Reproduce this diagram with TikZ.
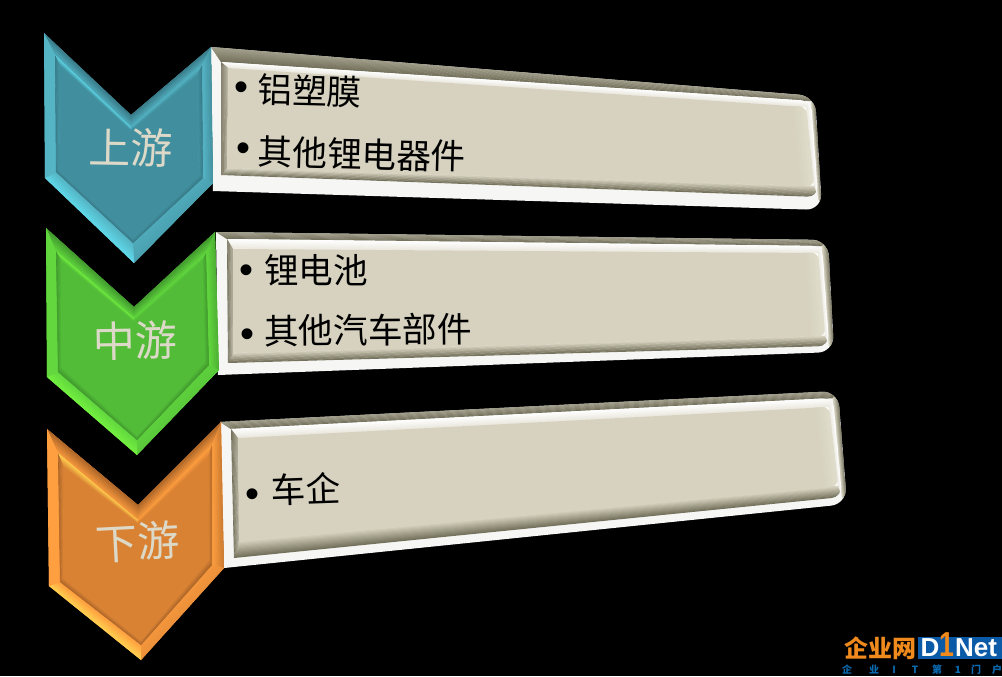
\documentclass[tikz,border=0pt]{standalone}
\usepackage{fontspec}
\setmainfont{Noto Sans CJK SC}
\newfontfamily\latinfont{Liberation Sans}
\usetikzlibrary{calc}

\definecolor{tealface}{HTML}{418F9E}
\definecolor{tealbright}{HTML}{5FD8E8}
\definecolor{teallight}{HTML}{55B5C5}
\definecolor{tealdark}{HTML}{35707E}
\definecolor{greenface}{HTML}{52BC38}
\definecolor{greenbright}{HTML}{74F040}
\definecolor{greenlight}{HTML}{62D83E}
\definecolor{greendark}{HTML}{3A8A2A}
\definecolor{orangeface}{HTML}{D98234}
\definecolor{orangebright}{HTML}{FFD050}
\definecolor{orangelight}{HTML}{FF9F40}
\definecolor{orangedark}{HTML}{9A5A24}
\definecolor{panelface}{HTML}{D6D2BF}
\definecolor{panelpale}{HTML}{E0DCCB}
\definecolor{panelwhite}{HTML}{F6F6F4}
\definecolor{panelgray}{HTML}{A09D8A}
\definecolor{paneldark}{HTML}{74715C}
\definecolor{labelcream}{HTML}{DDD9C8}
\definecolor{logoblue}{HTML}{0B5AA8}
\definecolor{logoorange}{HTML}{F08A1C}
\definecolor{logotag}{HTML}{0A6AB0}

\tikzset{
    stagelabel/.style={text=labelcream, font=\fontsize{31.5}{32}\selectfont, inner sep=0pt},
    itemtext/.style={text=black, font=\fontsize{26}{26}\selectfont, inner sep=0pt},
    itemdot/.style={text=black, font=\latinfont\fontsize{30}{30}\selectfont, inner sep=0pt, yshift=-3.7pt},
    logotext/.style={font=\latinfont\bfseries\fontsize{19.5}{20}\selectfont, text=white, inner sep=0pt},
    logocjk/.style={font=\bfseries\fontsize{18}{18}\selectfont, text=logoorange, inner sep=0pt},
    logosmall/.style={font=\bfseries\fontsize{7.5}{8}\selectfont, text=logotag, inner sep=0pt}
}

% strip between two edges, colour running from #5 to #6
\newcommand{\bevelband}[6]{%
    \foreach \n in {0,...,13}{%
        \pgfmathsetmacro{\pct}{100-\n*100/13}
        \pgfmathsetmacro{\ta}{\n/14}
        \pgfmathsetmacro{\tb}{(\n+1.5)/14}
        \fill[#5!\pct!#6] ($(#1)!\ta!(#3)$) -- ($(#2)!\ta!(#4)$) -- ($(#2)!\tb!(#4)$) -- ($(#1)!\tb!(#3)$) -- cycle;
    }%
}

% chevron from the coordinates a1..a6, b1..b6, c1..c6
\newcommand{\drawchevron}[1]{%
    \fill[#1light] (a1) -- (a2) -- (a3) -- (a4) -- (a5) -- (a6) -- cycle;
    \bevelband{a1}{a2}{b1}{b2}{#1dark}{#1light!70!#1face}
    \bevelband{a2}{a3}{b2}{b3}{#1dark}{#1light!70!#1face}
    \bevelband{a3}{a4}{b3}{b4}{#1dark!50!#1light}{#1light}
    \bevelband{a4}{a5}{b4}{b5}{#1light!70!#1face}{#1light!70!#1face}
    \bevelband{a5}{a6}{b5}{b6}{#1bright}{#1light}
    \bevelband{a6}{a1}{b6}{b1}{#1light}{#1light}
    \bevelband{b1}{b2}{c1}{c2}{#1bright}{#1face}
    \bevelband{b2}{b3}{c2}{c3}{#1light}{#1face}
    \bevelband{b3}{b4}{c3}{c4}{#1dark!75!#1face}{#1face}
    \bevelband{b4}{b5}{c4}{c5}{#1dark!75!#1face}{#1face}
    \bevelband{b5}{b6}{c5}{c6}{#1dark!75!#1face}{#1face}
    \bevelband{b6}{b1}{c6}{c1}{#1dark!75!#1face}{#1face}
    \fill[#1face] (c1) -- (c2) -- (c3) -- (c4) -- (c5) -- (c6) -- cycle;
}

% panel from the coordinates o1..o4, m1..m4, f1..f4
\newcommand{\drawpanel}{%
    \fill[panelwhite] (o1) [rounded corners=12pt] -- (o2) -- (o3) [sharp corners] -- (o4) -- cycle;
    \begin{scope}
        \clip (o1) [rounded corners=12pt] -- (o2) -- (o3) [sharp corners] -- (o4) -- cycle;
        \bevelband{o1}{o2}{m1}{m2}{panelgray}{paneldark}
        \bevelband{o2}{o3}{m2}{m3}{paneldark}{panelface}
    \end{scope}
    \fill[white] (m1) [rounded corners=8pt] -- (m2) -- (m3) [sharp corners] -- (m4) -- cycle;
    \begin{scope}
        \clip (m1) [rounded corners=8pt] -- (m2) -- (m3) [sharp corners] -- (m4) -- cycle;
        \bevelband{m1}{m2}{f1}{f2}{white}{panelface!50!white}
        \bevelband{m2}{m3}{f2}{f3}{white}{panelface!50!white}
        \bevelband{m3}{m4}{f3}{f4}{paneldark}{panelface}
        \bevelband{m4}{m1}{f4}{f1}{paneldark}{panelface!60!paneldark}
    \end{scope}
    \fill[panelface] (f1) [rounded corners=5pt] -- (f2) -- (f3) [sharp corners] -- (f4) -- cycle;
    \coordinate (g2) at ($(f1)!0.975!(f2)$);
    \coordinate (g3) at ($(f4)!0.975!(f3)$);
    \begin{scope}
        \clip (f1) [rounded corners=5pt] -- (f2) -- (f3) [sharp corners] -- (f4) -- cycle;
        \bevelband{g2}{g3}{f2}{f3}{panelface}{panelpale}
    \end{scope}
}

\begin{document}
\begin{tikzpicture}[x=0.75pt,y=-0.75pt]
    % Background
    \useasboundingbox (0,0) rectangle (1002,676);
    \fill[black] (0,0) rectangle (1002,676);

    % Upper panel
    \coordinate (o1) at (211,47); \coordinate (o2) at (815,96); \coordinate (o3) at (822,210); \coordinate (o4) at (213,191);
    \coordinate (m1) at (221,62); \coordinate (m2) at (811,101); \coordinate (m3) at (818,197); \coordinate (m4) at (221,175);
    \coordinate (f1) at (228,68); \coordinate (f2) at (806,107); \coordinate (f3) at (814,186); \coordinate (f4) at (227,168);
    \drawpanel

    % Middle panel
    \coordinate (o1) at (216,232); \coordinate (o2) at (828,240); \coordinate (o3) at (834,352); \coordinate (o4) at (218,375);
    \coordinate (m1) at (227,239); \coordinate (m2) at (822,246); \coordinate (m3) at (829,346); \coordinate (m4) at (228,363);
    \coordinate (f1) at (233,249); \coordinate (f2) at (818,253); \coordinate (f3) at (825,336); \coordinate (f4) at (233,353);
    \drawpanel

    % Lower panel
    \coordinate (o1) at (220,422); \coordinate (o2) at (838,391); \coordinate (o3) at (847,504); \coordinate (o4) at (224,568);
    \coordinate (m1) at (231,429); \coordinate (m2) at (833,398); \coordinate (m3) at (842,497); \coordinate (m4) at (234,558);
    \coordinate (f1) at (238,438); \coordinate (f2) at (829,407); \coordinate (f3) at (838,486); \coordinate (f4) at (239,541);
    \drawpanel

    % Upper chevron
    \coordinate (a1) at (44,33); \coordinate (a2) at (131,115); \coordinate (a3) at (211,47); \coordinate (a4) at (213,183); \coordinate (a5) at (134,263); \coordinate (a6) at (45,178);
    \coordinate (b1) at (55,55); \coordinate (b2) at (131,127); \coordinate (b3) at (202,65); \coordinate (b4) at (203,178); \coordinate (b5) at (133,243); \coordinate (b6) at (56,172);
    \coordinate (c1) at (60,66); \coordinate (c2) at (131,131); \coordinate (c3) at (197,76); \coordinate (c4) at (199,175); \coordinate (c5) at (133,238); \coordinate (c6) at (59,170);
    \drawchevron{teal}

    % Middle chevron
    \coordinate (a1) at (46,228); \coordinate (a2) at (134,307); \coordinate (a3) at (215,232); \coordinate (a4) at (219,370); \coordinate (a5) at (137,455); \coordinate (a6) at (47,377);
    \coordinate (b1) at (56,251); \coordinate (b2) at (134,318); \coordinate (b3) at (206,253); \coordinate (b4) at (209,365); \coordinate (b5) at (137,440); \coordinate (b6) at (58,372);
    \coordinate (c1) at (62,262); \coordinate (c2) at (134,322); \coordinate (c3) at (202,262); \coordinate (c4) at (204,362); \coordinate (c5) at (137,435); \coordinate (c6) at (62,367);
    \drawchevron{green}

    % Lower chevron
    \coordinate (a1) at (47,429); \coordinate (a2) at (138,505); \coordinate (a3) at (221,422); \coordinate (a4) at (224,568); \coordinate (a5) at (141,660); \coordinate (a6) at (49,586);
    \coordinate (b1) at (58,453); \coordinate (b2) at (138,520); \coordinate (b3) at (212,445); \coordinate (b4) at (212,565); \coordinate (b5) at (141,645); \coordinate (b6) at (60,582);
    \coordinate (c1) at (64,468); \coordinate (c2) at (138,524); \coordinate (c3) at (208,458); \coordinate (c4) at (208,560); \coordinate (c5) at (141,640); \coordinate (c6) at (64,578);
    \drawchevron{orange}

    % Stage labels
    \node[stagelabel, rotate=-1] (upstream) at (131,148) {上游};
    \node[stagelabel, rotate=1] (midstream) at (135,341) {中游};
    \node[stagelabel, rotate=3] (downstream) at (138,542) {下游};

    % Upper items
    \node[itemdot] (dotfilm) at (241,86) {•};
    \node[itemtext, rotate=-1.5] (film) at (310,91) {铝塑膜};
    \node[itemdot] (dotparts) at (243,147) {•};
    \node[itemtext, rotate=-1.5] (parts) at (362,154) {其他锂电器件};

    % Middle items
    \node[itemdot] (dotcell) at (246,269) {•};
    \node[itemtext] (cell) at (316,270) {锂电池};
    \node[itemdot] (dotauto) at (247,333) {•};
    \node[itemtext, rotate=0.5] (auto) at (368,330) {其他汽车部件};

    % Lower item
    \node[itemdot] (dotmaker) at (252,493) {•};
    \node[itemtext, rotate=2] (maker) at (306,489) {车企};

    % Logo
    \fill[logoblue] (918,637) rectangle (1002,659);
    \node[logocjk] (logocn) at (880,648) {企业网};
    \node[logotext] (logod) at (930,648) {D};
    \node[logotext, text=logoorange, font=\latinfont\bfseries\fontsize{20}{20}\selectfont] (logoone) at (947,645) {\scalebox{1}[1.3]{1}};
    \node[logotext] (logonet) at (976,648) {Net};
    \foreach \x/\t in {843/企,870/业,890/I,911/T,933/第,954/1,972/门,993/户}
        \node[logosmall] (tag\x) at (\x+4,670) {\t};
\end{tikzpicture}
\end{document}
